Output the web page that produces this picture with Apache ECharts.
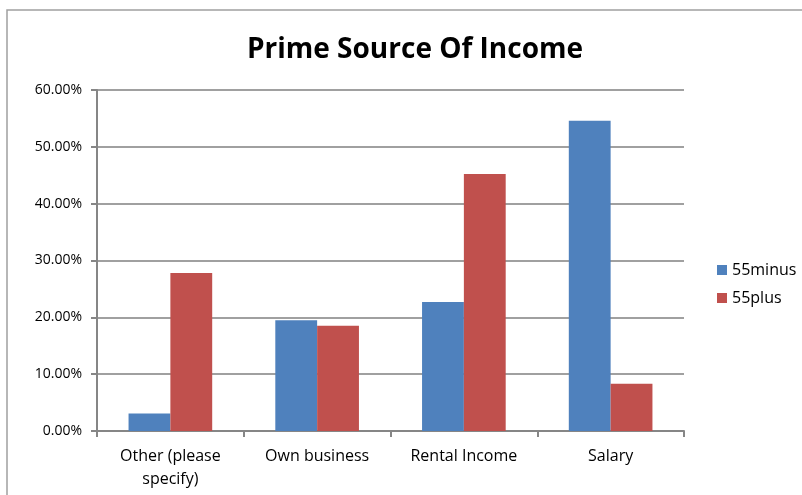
<!DOCTYPE html>
<html><head><meta charset="utf-8">
<script src="https://cdn.jsdelivr.net/npm/echarts@6/dist/echarts.min.js"></script>
<style>html,body{margin:0;padding:0;background:#fff}#c{width:802px;height:495px}</style>
</head><body><div id="c"></div>
<script>
const categories = ['Other (please\nspecify)', 'Own business', 'Rental Income', 'Salary'];
const minus55 = [3.1, 19.5, 22.7, 54.6];
const plus55 = [27.8, 18.5, 45.2, 8.3];
const yTicks = [0, 10, 20, 30, 40, 50, 60];

const chart = echarts.init(document.getElementById('c'));
const font = 'Open Sans, Liberation Sans, sans-serif';
chart.setOption({
  animation: false,
  graphic: [{type:'polyline', shape:{points:[[7,495],[7,10],[802,10]]}, style:{stroke:'#a0a0a0', lineWidth:1.5, fill:null}}],
  title: {text: 'Prime Source Of Income', left: 410, top: 31, textAlign: 'center',
    textStyle: {fontFamily: font, fontWeight: 'bold', fontSize: 28, color: '#000'}},
  legend: {orient: 'vertical', left: 712, top: 257, itemWidth: 10, itemHeight: 10, itemGap: 12,
    icon: 'rect', textStyle: {fontFamily: font, fontSize: 16, color: '#000'}},
  grid: {left: 97, right: 118, top: 90, bottom: 64},
  xAxis: {type: 'category', data: categories,
    axisLine: {lineStyle: {color: '#868686', width: 2}},
    axisTick: {show: true, length: 6, lineStyle: {color: '#868686', width: 2}},
    axisLabel: {fontFamily: font, fontSize: 16, color: '#000', margin: 14, lineHeight: 23}},
  yAxis: {type: 'value', min: 0, max: 60, interval: 10,
    axisLine: {show: true, lineStyle: {color: '#868686', width: 2}},
    axisTick: {show: true, length: 6, lineStyle: {color: '#868686', width: 2}},
    splitLine: {lineStyle: {color: '#808080', width: 1.5}},
    axisLabel: {fontFamily: font, fontSize: 14, color: '#000', margin: 15,
      formatter: v => v.toFixed(2) + '%'}},
  series: [
    {name: '55minus', type: 'bar', data: minus55, barGap: '0%', barCategoryGap: '43%',
      itemStyle: {color: '#4f81bd'}},
    {name: '55plus', type: 'bar', data: plus55, itemStyle: {color: '#c0504d'}}
  ]
});
</script></body></html>
